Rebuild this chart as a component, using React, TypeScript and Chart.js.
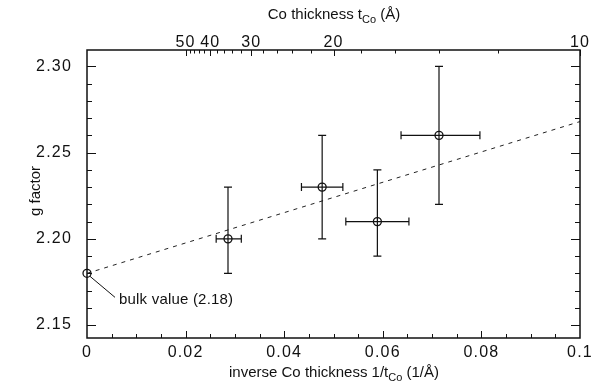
import React, { useEffect, useRef } from "react";
import { Chart, registerables } from "chart.js";

Chart.register(...registerables);

// Linear fit through the bulk value
const fitX = [0, 0.1];
const fitG = [2.18, 2.268];

// Bulk reference point
const bulkX = [0];
const bulkG = [2.18];

// Measured films: inverse thickness (1/Å) with ranges, and g factor with ranges
const invT = [0.0286, 0.0477, 0.0589, 0.0714];
const invTLow = [0.0262, 0.0435, 0.0525, 0.0637];
const invTHigh = [0.0313, 0.0519, 0.0653, 0.0797];
const gVal = [2.2, 2.23, 2.21, 2.26];
const gLow = [2.18, 2.2, 2.19, 2.22];
const gHigh = [2.23, 2.26, 2.24, 2.3];

// Axis ticks
const gTicks = [2.15, 2.2, 2.25, 2.3];
const gMinorStep = 0.01;
const invTicks = [0, 0.02, 0.04, 0.06, 0.08, 0.1];
const invMinorStep = 0.005;
const thickLabels = [50, 40, 30, 20, 10];
const thickMinor = [48, 46, 44, 42, 38, 36, 34, 32, 28, 26, 24, 22, 18, 16, 14, 12];

const FONT = '"Liberation Sans", Arial, Helvetica, sans-serif';
const INK = "#111";
const TICK_SPACING = "1.2px";

type Part = { text: string; sub?: boolean };

function drawParts(ctx: CanvasRenderingContext2D, parts: Part[], cx: number, baseline: number) {
  const main = `15px ${FONT}`;
  const small = `11px ${FONT}`;
  let w = 0;
  for (const p of parts) {
    ctx.font = p.sub ? small : main;
    w += ctx.measureText(p.text).width;
  }
  let x = cx - w / 2;
  ctx.textAlign = "left";
  ctx.textBaseline = "alphabetic";
  for (const p of parts) {
    ctx.font = p.sub ? small : main;
    ctx.fillText(p.text, x, baseline + (p.sub ? 4 : 0));
    x += ctx.measureText(p.text).width;
  }
}

const framePlugin = {
  id: "frameAndMarks",
  beforeLayout(chart: any) {
    (chart.ctx as any).letterSpacing = TICK_SPACING;
  },
  beforeDraw(chart: any) {
    (chart.ctx as any).letterSpacing = TICK_SPACING;
  },
  afterDatasetsDraw(chart: any) {
    const { ctx, chartArea: a, scales } = chart;
    const xs = scales.x;
    const ys = scales.y;
    ctx.save();
    (ctx as any).letterSpacing = "0px";
    ctx.strokeStyle = INK;
    ctx.fillStyle = INK;

    // error bars
    ctx.lineWidth = 1.2;
    const cap = 4;
    for (let i = 0; i < invT.length; i++) {
      const px = xs.getPixelForValue(invT[i]);
      const py = ys.getPixelForValue(gVal[i]);
      const yTop = ys.getPixelForValue(gHigh[i]);
      const yBot = ys.getPixelForValue(gLow[i]);
      const xL = xs.getPixelForValue(invTLow[i]);
      const xR = xs.getPixelForValue(invTHigh[i]);
      ctx.beginPath();
      ctx.moveTo(px, yTop);
      ctx.lineTo(px, yBot);
      ctx.moveTo(px - cap, yTop);
      ctx.lineTo(px + cap, yTop);
      ctx.moveTo(px - cap, yBot);
      ctx.lineTo(px + cap, yBot);
      ctx.moveTo(xL, py);
      ctx.lineTo(xR, py);
      ctx.moveTo(xL, py - cap);
      ctx.lineTo(xL, py + cap);
      ctx.moveTo(xR, py - cap);
      ctx.lineTo(xR, py + cap);
      ctx.stroke();
    }

    // frame
    ctx.lineWidth = 1.5;
    ctx.strokeRect(a.left, a.top, a.right - a.left, a.bottom - a.top);

    // y ticks, both sides, pointing inward
    ctx.lineWidth = 1;
    ctx.beginPath();
    const gStart = Math.round(gTicks[0] * 100);
    const gEnd = Math.round(gTicks[gTicks.length - 1] * 100);
    for (let k = gStart; k <= gEnd; k += Math.round(gMinorStep * 100)) {
      const v = k / 100;
      const y = Math.round(ys.getPixelForValue(v)) + 0.5;
      const len = k % 5 === 0 ? 9 : 5;
      ctx.moveTo(a.left, y);
      ctx.lineTo(a.left + len, y);
      ctx.moveTo(a.right, y);
      ctx.lineTo(a.right - len, y);
    }
    // bottom ticks
    const nInv = Math.round(invTicks[invTicks.length - 1] / invMinorStep);
    for (let k = 1; k < nInv; k++) {
      const v = k * invMinorStep;
      const x = Math.round(xs.getPixelForValue(v)) + 0.5;
      const len = k % 4 === 0 ? 7 : 4;
      ctx.moveTo(x, a.bottom);
      ctx.lineTo(x, a.bottom - len);
    }
    // top ticks at 1/t
    for (const t of thickLabels) {
      const x = Math.round(xs.getPixelForValue(1 / t)) + 0.5;
      ctx.moveTo(x, a.top);
      ctx.lineTo(x, a.top + 6);
    }
    for (const t of thickMinor) {
      const x = Math.round(xs.getPixelForValue(1 / t)) + 0.5;
      ctx.moveTo(x, a.top);
      ctx.lineTo(x, a.top + 3.5);
    }
    ctx.stroke();

    // bulk value callout
    const bx = xs.getPixelForValue(bulkX[0]);
    const by = ys.getPixelForValue(bulkG[0]);
    ctx.lineWidth = 1;
    ctx.beginPath();
    ctx.moveTo(bx + 3, by + 3);
    ctx.lineTo(bx + 28, by + 24);
    ctx.stroke();
    ctx.save();
    (ctx as any).letterSpacing = "0.2px";
    ctx.font = `15px ${FONT}`;
    ctx.textAlign = "left";
    ctx.textBaseline = "middle";
    ctx.fillText(`bulk value (${bulkG[0].toFixed(2)})`, bx + 32, by + 27);
    ctx.restore();

    // axis titles
    drawParts(ctx, [{ text: "Co thickness t" }, { text: "Co", sub: true }, { text: " (Å)" }], 334, 19);
    drawParts(
      ctx,
      [{ text: "inverse Co thickness 1/t" }, { text: "Co", sub: true }, { text: " (1/Å)" }],
      334,
      377
    );
    ctx.save();
    ctx.translate(36, 191);
    ctx.rotate(-Math.PI / 2);
    ctx.font = `15px ${FONT}`;
    ctx.textAlign = "center";
    ctx.textBaseline = "middle";
    ctx.fillText("g factor", 0, 0);
    ctx.restore();

    ctx.restore();
  },
};

export default function App() {
  const ref = useRef<HTMLCanvasElement | null>(null);

  useEffect(() => {
    if (!ref.current) return;
    const tickFont = { family: FONT, size: 16 };
    const chart = new Chart(ref.current, {
      type: "scatter",
      data: {
        datasets: [
          {
            label: "fit",
            data: fitX.map((x, i) => ({ x, y: fitG[i] })),
            showLine: true,
            borderColor: "#222",
            borderWidth: 1,
            borderDash: [4, 5],
            pointRadius: 0,
          },
          {
            label: "films",
            data: invT.map((x, i) => ({ x, y: gVal[i] })),
            pointStyle: "circle",
            pointRadius: 4,
            borderColor: INK,
            borderWidth: 1.3,
            backgroundColor: "rgba(0,0,0,0)",
          },
          {
            label: "bulk",
            data: bulkX.map((x, i) => ({ x, y: bulkG[i] })),
            pointStyle: "circle",
            pointRadius: 4,
            borderColor: INK,
            borderWidth: 1.3,
            backgroundColor: "rgba(0,0,0,0)",
            clip: false as any,
          },
        ],
      },
      options: {
        responsive: false,
        animation: false,
        events: [],
        devicePixelRatio: 1,
        layout: { padding: { left: 0, right: 20, top: 0, bottom: 0 } },
        plugins: { legend: { display: false }, tooltip: { enabled: false } },
        scales: {
          x: {
            type: "linear",
            position: "bottom",
            min: 0,
            max: 0.1,
            grid: { display: false },
            border: { display: false },
            afterBuildTicks: (s: any) => {
              s.ticks = invTicks.map((v) => ({ value: v }));
            },
            afterFit: (s: any) => {
              s.height = 45;
            },
            ticks: {
              autoSkip: false,
              maxRotation: 0,
              padding: -3,
              color: INK,
              font: tickFont,
              callback: (v: any) => (v === 0 ? "0" : String(+Number(v).toFixed(3))),
            },
          },
          x2: {
            type: "linear",
            position: "top",
            min: 0,
            max: 0.1,
            grid: { display: false },
            border: { display: false },
            afterBuildTicks: (s: any) => {
              s.ticks = thickLabels.map((t) => ({ value: 1 / t }));
            },
            afterFit: (s: any) => {
              s.height = 50;
            },
            ticks: {
              autoSkip: false,
              maxRotation: 0,
              padding: -10,
              color: INK,
              font: tickFont,
              callback: (v: any) => String(Math.round(1 / Number(v))),
            },
          },
          y: {
            type: "linear",
            position: "left",
            min: 2.1425,
            max: 2.3095,
            grid: { display: false },
            border: { display: false },
            afterBuildTicks: (s: any) => {
              s.ticks = gTicks.map((v) => ({ value: v }));
            },
            afterFit: (s: any) => {
              s.width = 87;
            },
            ticks: {
              padding: 7,
              color: INK,
              font: tickFont,
              callback: (v: any) => Number(v).toFixed(2),
            },
          },
        },
      },
      plugins: [framePlugin],
    });
    return () => chart.destroy();
  }, []);

  return (
    <div style={{ position: "absolute", left: 0, top: 0, width: 600, height: 383, background: "#fff" }}>
      <canvas ref={ref} width={600} height={383} />
    </div>
  );
}
